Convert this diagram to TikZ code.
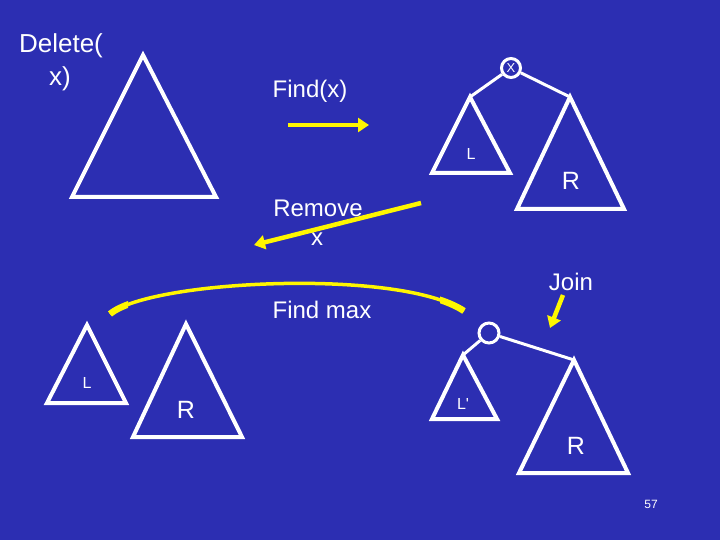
\documentclass[tikz,border=0pt]{standalone}
\usepackage{fontspec}
\setmainfont{Liberation Sans}
\usetikzlibrary{arrows.meta}
\definecolor{slideblue}{RGB}{44,46,178}
\definecolor{penyellow}{RGB}{255,246,0}

\begin{document}
\begin{tikzpicture}[x=1pt,y=-1pt,
  tri/.style={draw=white,line width=4pt},
  edge/.style={draw=white,line width=3pt},
  txt/.style={text=white,inner sep=0pt,font=\fontsize{24}{26}\selectfont},
  small/.style={text=white,inner sep=0pt,font=\fontsize{16}{18}\selectfont},
  big/.style={text=white,inner sep=0pt,font=\fontsize{25}{27}\selectfont},
  knot/.style={circle,draw=white,line width=3pt,minimum size=19pt,inner sep=0pt,text=white,font=\fontsize{13}{13}\selectfont},
  yarrow/.style={draw=penyellow,line width=4.5pt,-{Triangle[length=11pt,width=14pt]}}]
\fill[slideblue] (0,0) rectangle (720,540);

% title and the whole tree
\node[txt,font=\fontsize{26}{28}\selectfont] (del) at (61,46) {Delete(};
\node[txt,font=\fontsize{26}{28}\selectfont] (delx) at (60,79) {x)};
\draw[tri] (143,55) -- (72,197) -- (216,197) -- cycle;

% after Find(x)
\node[txt] (find) at (310,91) {Find(x)};
\coordinate (fa) at (288,125);
\coordinate (fb) at (369,125);
\draw[yarrow] (fa) -- (fb);

\node[knot] (x1) at (511,68) {X};
\coordinate (l1) at (470,97);
\coordinate (r1) at (570,97);
\draw[edge] (x1) -- (l1);
\draw[edge] (x1) -- (r1);
\draw[tri] (l1) -- (432,173) -- (510,173) -- cycle;
\draw[tri] (r1) -- (517,209) -- (624,209) -- cycle;
\node[small] (L1) at (471,154) {L};
\node[big] (R1) at (571,181) {R};

% Remove x
\node[txt] (rem) at (318,208) {Remove};
\node[txt] (remx) at (317,239) {x};
\coordinate (ra) at (421,203);
\coordinate (rb) at (254,245);
\draw[yarrow] (ra) -- (rb);

% Find max curve, thicker near both ends
\draw[penyellow,line width=3.5pt] (110,314) .. controls (150,280) and (400,268) .. (464,311);
\begin{scope}
\clip (95,260) rectangle (128,330) (440,260) rectangle (480,330);
\draw[penyellow,line width=6.5pt] (110,314) .. controls (150,280) and (400,268) .. (464,311);
\end{scope}
\node[txt] (fmax) at (322,310) {Find max};

% split into L and R
\draw[tri] (87,325) -- (47,403) -- (126,403) -- cycle;
\node[small] (L2) at (87,383) {L};
\draw[tri] (186,324) -- (133,437) -- (242,437) -- cycle;
\node[big] (R2) at (186,410) {R};

% Join
\node[txt] (join) at (571,282) {Join};
\coordinate (ja) at (563,295);
\coordinate (jb) at (550,328);
\draw[yarrow] (ja) -- (jb);

\node[knot,minimum size=20pt] (x2) at (489,333) {};
\coordinate (l2) at (463,355);
\coordinate (r2) at (574,360);
\draw[edge] (x2) -- (l2);
\draw[edge] (x2) -- (r2);
\draw[tri] (l2) -- (432,419) -- (497,419) -- cycle;
\draw[tri] (r2) -- (519,473) -- (628,473) -- cycle;
\node[small] (L3) at (463,404) {L\textquotesingle};
\node[big] (R3) at (576,446) {R};

\node[text=white,inner sep=0pt,font=\fontsize{12}{12}\selectfont] (page) at (651,504) {57};
\end{tikzpicture}
\end{document}
